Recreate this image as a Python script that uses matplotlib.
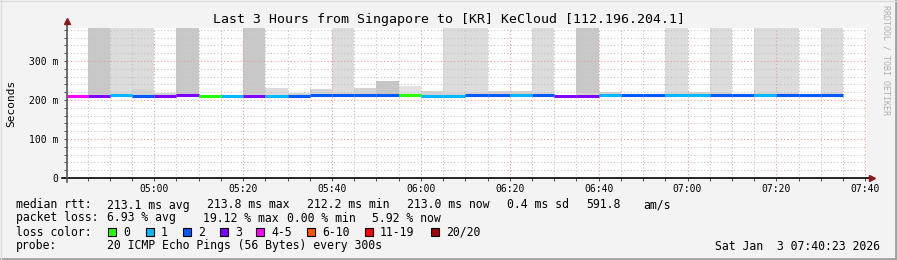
import matplotlib
matplotlib.use("Agg")
import matplotlib.pyplot as plt
import matplotlib.dates as mdates
from matplotlib.ticker import MultipleLocator, FuncFormatter
from matplotlib.lines import Line2D
from matplotlib.patches import Rectangle
import pandas as pd

plt.rcParams['font.family'] = 'DejaVu Sans Mono'

# 5 minute steps, first one is partial
t0 = pd.Timestamp("2026-01-03 04:40:23")
t1 = pd.Timestamp("2026-01-03 07:40:23")
steps = pd.date_range("2026-01-03 04:45", "2026-01-03 07:35", freq="5min")

# median rtt per step (ms)
median = [211, 211, 214, 211, 211, 214, 211, 211, 211, 211,
          211, 213, 212, 213, 212, 214, 211, 211, 212, 212,
          212, 212, 211, 211, 212, 212, 212, 212, 212, 212,
          212, 212, 212, 212, 212]
# loss class per step (index into loss_labels)
loss = [4, 3, 1, 2, 3, 3, 0, 1, 3, 1,
        2, 2, 2, 2, 2, 0, 1, 1, 2, 2,
        1, 2, 3, 3, 1, 2, 2, 1, 1, 2,
        2, 1, 2, 2, 2]
# smoke band top (ms)
smoke_top = [212, 215, 214, 227, 219, 215, 212, 212, 215, 231,
             219, 228, 218, 231, 249, 237, 223, 218, 218, 224,
             224, 218, 214, 218, 221, 213, 213, 218, 221, 221,
             213, 218, 218, 213, 218]
smoke_col = ['#d4d4d4'] * 35
smoke_col[14] = '#c6c6c6'
smoke_col[15] = '#e2e2e2'
smoke_col[9] = '#dcdcdc'
# steps with lost pings drawn up to the top: d = dark, l = light
outage = ['', 'd', 'l', 'l', '', 'd', '', '', 'd', '',
          '', '', 'l', '', '', '', '', 'l', 'l', '',
          '', 'l', '', 'd', '', '', '', 'l', '', 'l',
          '', 'l', 'l', '', 'l']

loss_labels = ['0', '1', '2', '3', '4-5', '6-10', '11-19', '20/20']
loss_colors = ['#26ff00', '#00b8ff', '#0059ff', '#7e00ff',
               '#ff00ff', '#ff5500', '#ff0000', '#a00000']

stats_rtt = ['213.1 ms avg', '213.8 ms max', '212.2 ms min', '213.0 ms now',
             '0.4 ms sd', '591.8', 'am/s']
stats_loss = ['6.93 % avg', '19.12 % max', '0.00 % min', '5.92 % now']

W, H = 897, 260
fig = plt.figure(figsize=(W / 100, H / 100), dpi=100, facecolor='#f3f3f3')
ax = fig.add_axes([67 / W, (H - 178) / H, 800 / W, 150 / H])
ytop = 384.6
base = 207

edges = [t0] + list(steps)
left = mdates.date2num(edges[:-1])
right = mdates.date2num(edges[1:])
width = right - left

for i in range(len(median)):
    if outage[i]:
        c = '#c8c8c8' if outage[i] == 'd' else '#dcdcdc'
        ax.bar(left[i], ytop - base, width[i], bottom=base, align='edge',
               color=c, lw=0, zorder=1)
    ax.bar(left[i], smoke_top[i] - base, width[i], bottom=base, align='edge',
           color=smoke_col[i], lw=0, zorder=1.5)
    ax.hlines(median[i], left[i], right[i], colors=loss_colors[loss[i]],
              lw=2.2, zorder=3)

ax.set_xlim(mdates.date2num(t0), mdates.date2num(t1))
ax.set_ylim(0, ytop)
ax.xaxis.set_major_locator(mdates.MinuteLocator(byminute=[0, 20, 40]))
ax.xaxis.set_minor_locator(mdates.MinuteLocator(byminute=range(0, 60, 5)))
ax.xaxis.set_major_formatter(mdates.DateFormatter('%H:%M'))
ax.yaxis.set_major_locator(MultipleLocator(100))
ax.yaxis.set_minor_locator(MultipleLocator(20))
ax.yaxis.set_major_formatter(FuncFormatter(lambda v, p: '0' if v == 0 else '%d m' % v))

ax.grid(which='minor', color='#c4c4c4', ls=(0, (1, 2)), lw=0.8, zorder=2)
ax.grid(which='major', color='#f09a9a', ls=(0, (1, 2)), lw=0.8, zorder=2.1)
ax.tick_params(which='both', labelsize=7, colors='#333333', length=2, width=0.6)
ax.tick_params(axis='x', pad=2, labelcolor='black')
ax.tick_params(axis='y', pad=4, labelcolor='black')
for s in ax.spines.values():
    s.set_visible(False)
ax.set_facecolor('white')

# axis lines with arrows
def fx(px):
    return px / W

def fy(py):
    return 1 - py / H

fig.add_artist(Line2D([fx(62), fx(870)], [fy(178), fy(178)], color='black', lw=1.2))
fig.add_artist(Line2D([fx(67), fx(67)], [fy(182), fy(22)], color='#555555', lw=1.2))
fig.add_artist(Line2D([fx(872)], [fy(178)], marker='>', color='#8b1a1a', ms=4, lw=0))
fig.add_artist(Line2D([fx(67)], [fy(21)], marker='^', color='#8b1a1a', ms=4, lw=0))

fig.text(0.5, fy(19), 'Last 3 Hours from Singapore to [KR] KeCloud [112.196.204.1]',
         ha='center', va='center', fontsize=9.5)
fig.text(fx(11), fy(103), 'Seconds', rotation=90, ha='center', va='center', fontsize=8)
fig.text(fx(886), fy(60), 'RRDTOOL / TOBI OETIKER', rotation=270, ha='center',
         va='center', fontsize=6, color='#b0b0b0')

fs = 8.3
r1, r2, r3, r4 = fy(205), fy(218), fy(232), fy(246)
fig.text(fx(16), r1, 'median rtt:', va='center', fontsize=fs)
for x, s in zip([107, 207, 307, 407, 507, 586, 643], stats_rtt):
    fig.text(fx(x), r1, s, va='center', fontsize=fs)
fig.text(fx(16), r2, 'packet loss:', va='center', fontsize=fs)
for x, s in zip([107, 203, 287, 372], stats_loss):
    fig.text(fx(x), r2, s, va='center', fontsize=fs)
fig.text(fx(16), r3, 'loss color:', va='center', fontsize=fs)
for x, lab, c in zip([108, 146, 183, 220, 256, 307, 365, 431], loss_labels, loss_colors):
    fig.add_artist(Rectangle((fx(x), fy(236)), 8 / W, 8 / H, facecolor=c,
                             edgecolor='black', lw=0.8))
    fig.text(fx(x + 15), r3, lab, va='center', fontsize=fs)
fig.text(fx(16), r4, 'probe:', va='center', fontsize=fs)
fig.text(fx(107), r4, '20 ICMP Echo Pings (56 Bytes) every 300s', va='center', fontsize=fs)
fig.text(fx(880), r4, 'Sat Jan  3 07:40:23 2026', ha='right', va='center', fontsize=fs)

# frame
fig.add_artist(Line2D([0, 1], [fy(258.5), fy(258.5)], color='#a0a0a0', lw=2))
fig.add_artist(Line2D([fx(895.5), fx(895.5)], [0, 1], color='#a0a0a0', lw=2))
fig.add_artist(Line2D([0, 1], [fy(0.5), fy(0.5)], color='#dcdcdc', lw=1))
fig.add_artist(Line2D([fx(0.5), fx(0.5)], [0, 1], color='#dcdcdc', lw=1))

fig.savefig('out.png', dpi=100, facecolor=fig.get_facecolor())
